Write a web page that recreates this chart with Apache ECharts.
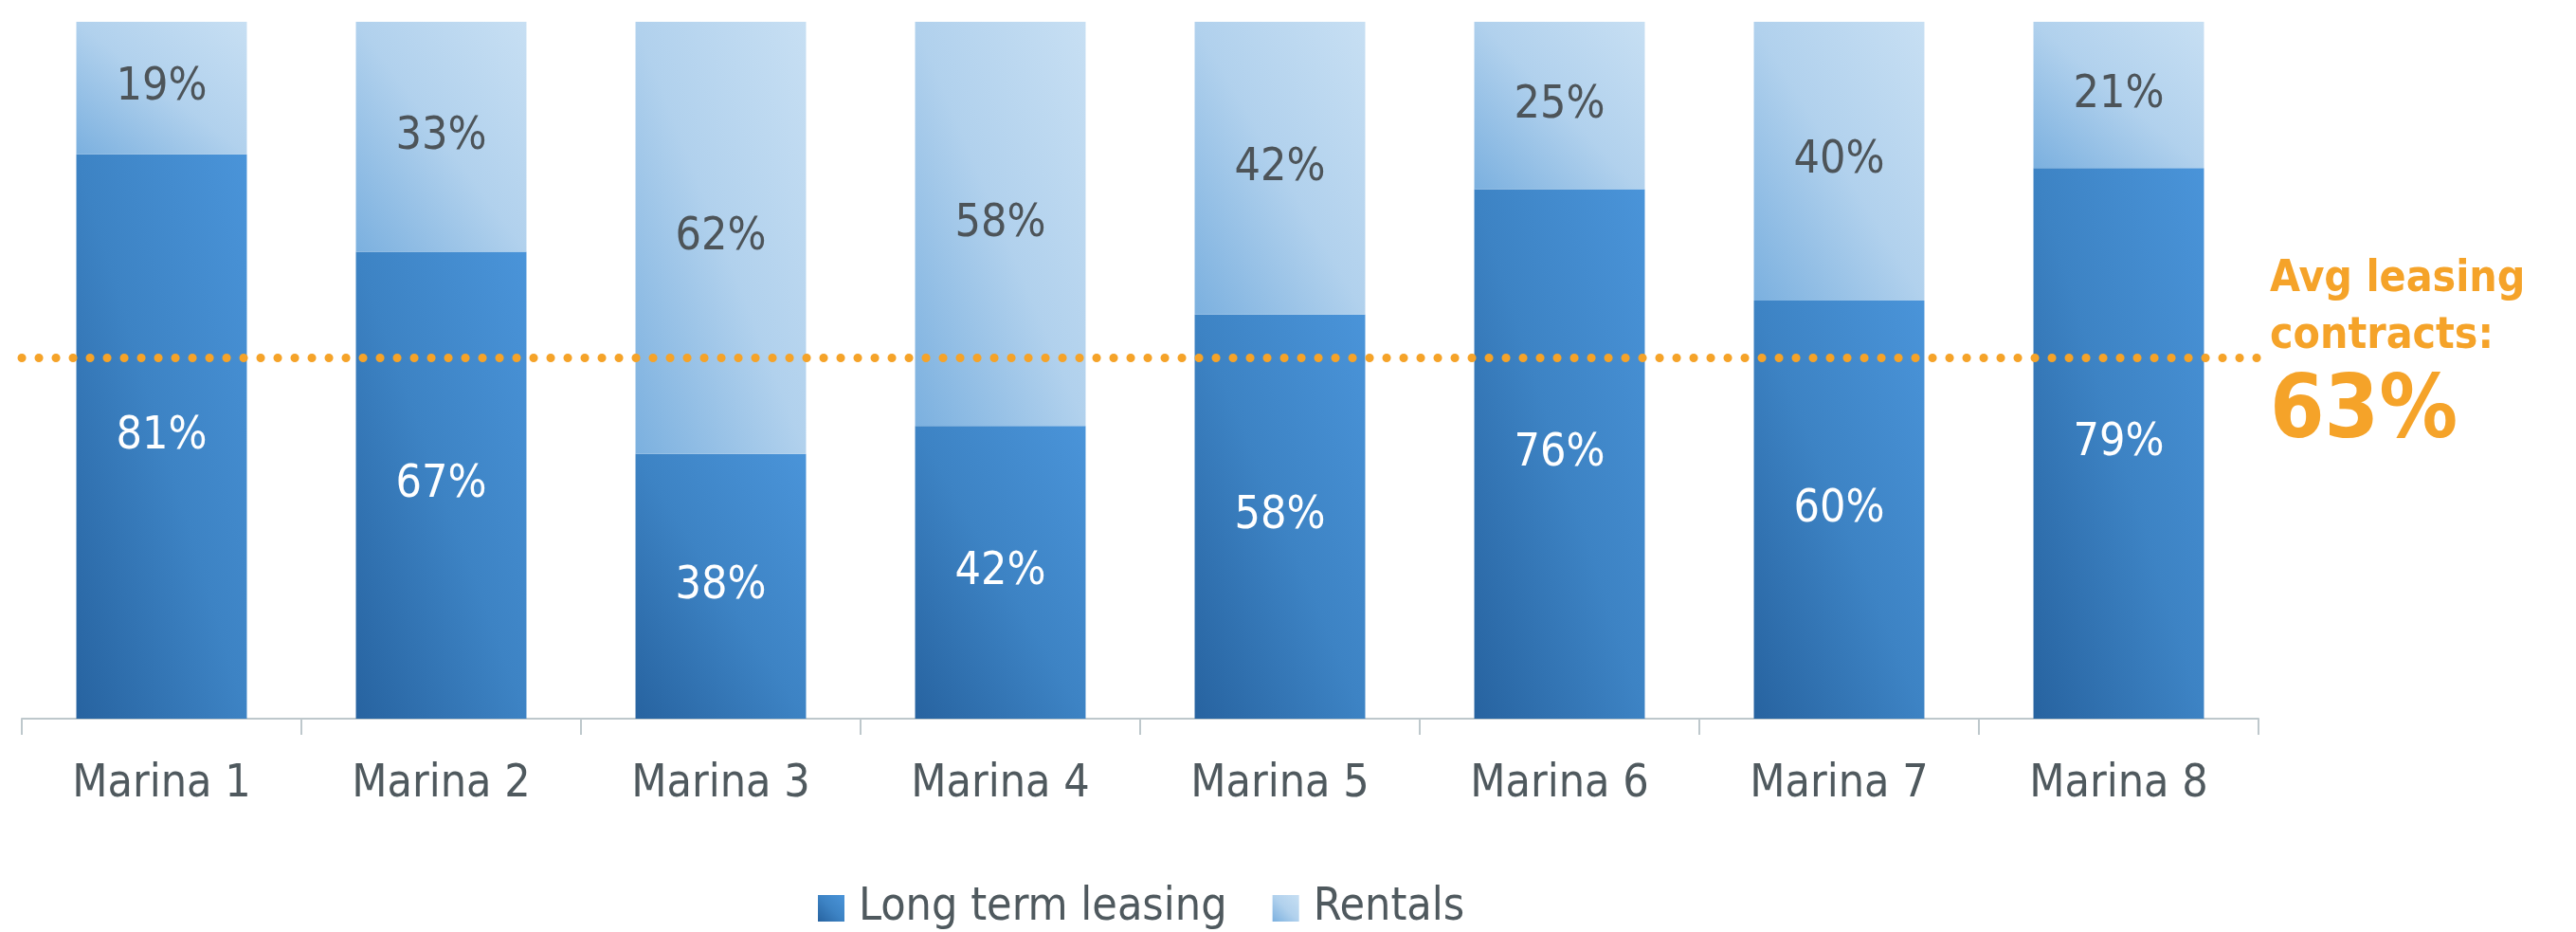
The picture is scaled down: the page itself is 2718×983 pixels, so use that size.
<!DOCTYPE html>
<html>
<head>
<meta charset="utf-8">
<script src="https://cdn.jsdelivr.net/npm/echarts@6/dist/echarts.min.js"></script>
<style>
  html, body { margin: 0; padding: 0; background: #fff; }
  #box { width: 2718px; height: 983px; }
</style>
</head>
<body>
<div id="box"></div>
<script>
var marinas = ['Marina 1', 'Marina 2', 'Marina 3', 'Marina 4', 'Marina 5', 'Marina 6', 'Marina 7', 'Marina 8'];
var longTermLeasing = [81, 67, 38, 42, 58, 76, 60, 79];
var rentals = [19, 33, 62, 58, 42, 25, 40, 21];
var seriesNames = ['Long term leasing', 'Rentals'];
var avgLeasing = 63;          // value written in the annotation
var avgLinePosition = 51.8;   // where the dotted line sits on the 0-100 scale

var FONT = "'DejaVu Sans Condensed', 'DejaVu Sans', sans-serif";
var leaseStops = [
  { offset: 0, color: '#2763a0' },
  { offset: 0.5, color: '#3d83c4' },
  { offset: 1, color: '#4a94d9' }
];
var rentStops = [
  { offset: 0, color: '#7bb0df' },
  { offset: 0.5, color: '#b1d1ed' },
  { offset: 1, color: '#c7dff3' }
];

// diagonal gradient that follows the box shape (bottom-left dark, top-right light)
function diagGradient(v, stops) {
  var w = 180, h = v / 100 * 735;
  var d = h * h + w * w;
  return new echarts.graphic.LinearGradient(0, 1, 2 * h * h / d, 1 - 2 * w * w / d, stops);
}

var toItems = function (arr, stops) {
  return arr.map(function (v) {
    return { value: v, itemStyle: { color: diagGradient(v, stops) } };
  });
};

var mychart = echarts.init(document.getElementById('box'));
var option = {
  backgroundColor: '#fff',
  animation: false,
  grid: { left: 23, right: 335, top: 23, bottom: 225, containLabel: false, outerBoundsMode: 'none' },
  legend: {
    left: 858,
    top: 929,
    itemWidth: 28,
    itemHeight: 28,
    itemGap: 48,
    icon: 'rect',
    data: seriesNames,
    textStyle: { fontFamily: FONT, fontSize: 48, color: '#4f595e', padding: [0, 0, 0, 10] }
  },
  xAxis: {
    type: 'category',
    data: marinas,
    boundaryGap: true,
    axisLine: { show: true, lineStyle: { color: '#bec8cc', width: 2 } },
    axisTick: { show: true, alignWithLabel: false, interval: 0, length: 17, lineStyle: { color: '#bec8cc', width: 2 } },
    axisLabel: { fontFamily: FONT, fontSize: 48, color: '#4f595e', margin: 46 }
  },
  yAxis: {
    type: 'value',
    min: 0,
    max: 100,
    show: false,
    splitLine: { show: false }
  },
  series: [
    {
      name: seriesNames[0],
      type: 'bar',
      stack: 'all',
      barCategoryGap: '39%',
      itemStyle: { color: new echarts.graphic.LinearGradient(0, 1, 1, 0, leaseStops) },
      label: { show: true, position: 'inside', formatter: '{c}%', fontFamily: FONT, fontSize: 48, color: '#fff' },
      data: toItems(longTermLeasing, leaseStops)
    },
    {
      name: seriesNames[1],
      type: 'bar',
      stack: 'all',
      barCategoryGap: '39%',
      itemStyle: { color: new echarts.graphic.LinearGradient(0, 1, 1, 0, rentStops) },
      label: { show: true, position: 'inside', formatter: '{c}%', fontFamily: FONT, fontSize: 48, color: '#4d5459' },
      data: toItems(rentals, rentStops),
      markLine: {
        silent: true,
        symbol: 'none',
        lineStyle: { color: '#f5a329', width: 9, type: [0.1, 17.9], cap: 'round' },
        label: {
          show: true,
          position: 'end',
          distance: 12,
          formatter: '{a|Avg leasing}\n{a|contracts:}\n{b|' + avgLeasing + '%}',
          rich: {
            a: { fontFamily: FONT, fontWeight: 'bold', fontSize: 46, lineHeight: 60, color: '#f5a329', align: 'left' },
            b: { fontFamily: FONT, fontWeight: 'bold', fontSize: 92, lineHeight: 104, color: '#f5a329', align: 'left' }
          }
        },
        data: [{ yAxis: avgLinePosition }]
      }
    }
  ]
};
mychart.setOption(option);
</script>
</body>
</html>
